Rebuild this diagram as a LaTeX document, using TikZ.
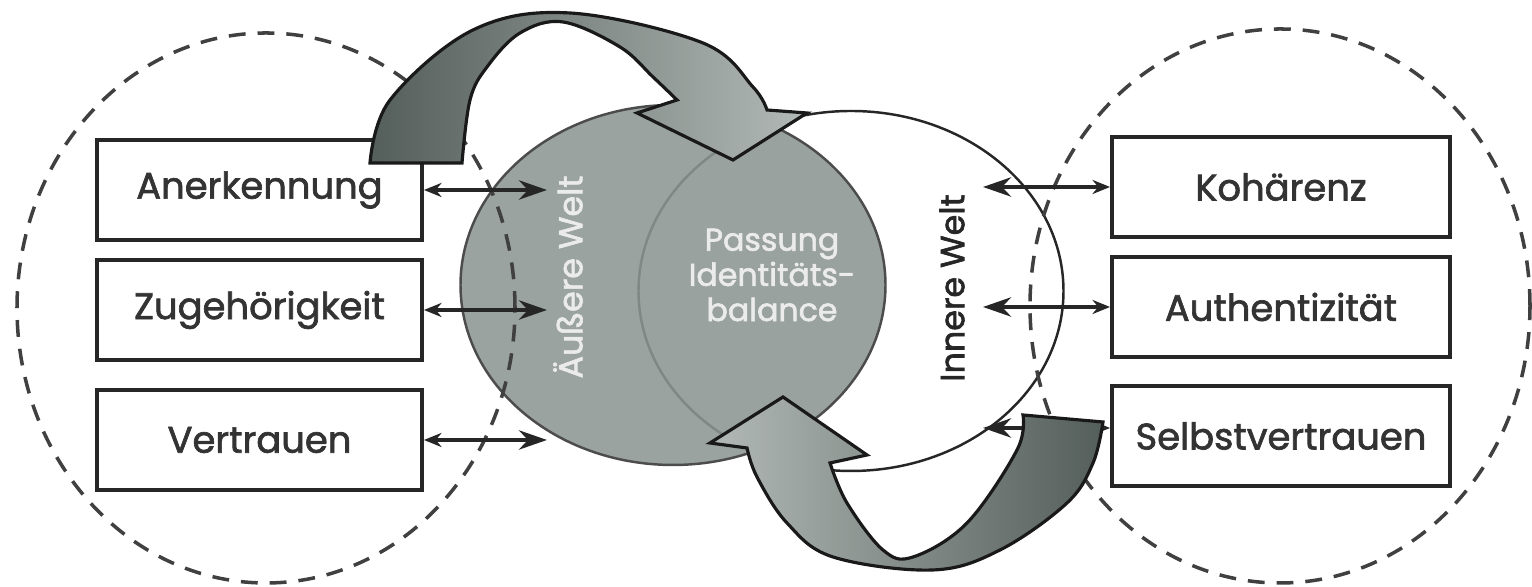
\documentclass[tikz,border=0pt]{standalone}
\usepackage{fontspec}
\setmainfont{Poppins}
\newfontfamily\heavyfont{Poppins}[FakeBold=1.8]
\usetikzlibrary{arrows.meta,positioning,shapes.geometric}
\definecolor{worldgray}{RGB}{140,150,146}
\definecolor{ribbondark}{RGB}{84,94,90}
\definecolor{ribbonlight}{RGB}{178,185,182}

\begin{document}
\begin{tikzpicture}[
    box/.style={draw=black!85, line width=1.1pt, fill=white, minimum height=1.0cm, font=\heavyfont\fontsize{10.5}{12}\selectfont, text=black!80},
    world/.style={ellipse, minimum width=4.25cm, minimum height=3.6cm, inner sep=0pt},
    ring/.style={ellipse, draw=black!75, line width=1pt, dash pattern=on 4.8pt off 3.4pt, inner sep=0pt},
    wlabel/.style={rotate=90, font=\heavyfont\fontsize{9.5}{11}\selectfont},
    link/.style={{Stealth[length=5pt,width=4pt]}-{Stealth[length=8pt,width=5.5pt]}, line width=1.1pt, black!85},
    ribbon/.style={draw=black!90, line width=0.9pt}
  ]
  \useasboundingbox (0,0) rectangle (15.32,5.87);

  % the two worlds
  \node[world, draw=black!85, line width=0.7pt, fill=white] (innen) at (8.51,2.96) {};
  \node[world, draw=black!70, line width=0.7pt, fill=worldgray, fill opacity=0.88] (aussen) at (6.73,3.02) {};

  % dashed groups
  \node[ring, minimum width=4.98cm, minimum height=5.50cm] (ringL) at (2.66,2.79) {};
  \node[ring, minimum width=5.00cm, minimum height=5.54cm] (ringR) at (12.80,2.81) {};

  \node[wlabel, text=white!92!black] (aussenTxt) at (5.68,3.10) {Äußere Welt};
  \node[wlabel, text=black!85] (innenTxt) at (9.52,2.99) {Innere Welt};
  \node[align=center, text=white!92!black, font=\heavyfont\fontsize{9}{10}\selectfont] (passung) at (7.72,3.12) {Passung\\Identitäts-\\balance};

  % needs
  \node[box, minimum width=3.25cm] (aner) at (2.595,3.97) {Anerkennung};
  \node[box, minimum width=3.25cm] (zuge) at (2.595,2.77) {Zugehörigkeit};
  \node[box, minimum width=3.25cm] (vert) at (2.595,1.47) {Vertrauen};
  \node[box, minimum width=3.38cm] (koh) at (12.81,4.00) {Kohärenz};
  \node[box, minimum width=3.38cm] (auth) at (12.81,2.80) {Authentizität};
  \node[box, minimum width=3.38cm] (selbst) at (12.81,1.51) {Selbstvertrauen};

  \coordinate (endL) at (5.47,0);
  \coordinate (endR) at (9.83,0);
  \draw[link] (aner.east) -- (aner.east -| endL);
  \draw[link] (zuge.east) -- (zuge.east -| endL);
  \draw[link] (vert.east) -- (vert.east -| endL);
  \draw[link] (koh.west) -- (koh.west -| endR);
  \draw[link] (auth.west) -- (auth.west -| endR);
  \draw[link] ([yshift=0.08cm]selbst.west) -- ([yshift=0.08cm]selbst.west -| endR);

  % curved ribbons
  \shade[ribbon, left color=ribbondark, right color=ribbonlight]
    plot[smooth, tension=0.6] coordinates {(3.70,4.24) (3.90,4.87) (4.73,5.57) (5.70,5.74) (7.03,5.44) (7.53,5.00) (7.67,4.77)}
    -- (8.07,4.74) -- (7.33,4.27) -- (6.37,4.74) -- (6.77,4.87)
    -- plot[smooth, tension=0.6] coordinates {(6.77,4.87) (6.53,5.10) (6.20,5.40) (5.63,5.65) (5.20,5.54) (4.87,5.20) (4.70,4.87) (4.62,4.24)}
    -- cycle;
  \shade[ribbon, left color=ribbonlight, right color=ribbondark]
    (10.23,1.72) -- (11.03,1.65)
    -- plot[smooth, tension=0.6] coordinates {(11.03,1.65) (10.93,1.24) (10.67,0.84) (10.00,0.37) (9.33,0.17) (8.33,0.30) (7.87,0.64) (7.57,1.10) (7.47,1.39)}
    -- (7.10,1.44) -- (7.83,1.90) -- (8.67,1.32) -- (8.30,1.24)
    -- plot[smooth, tension=0.6] coordinates {(8.30,1.24) (8.47,0.84) (8.83,0.37) (9.13,0.30) (9.67,0.64) (10.17,1.37) (10.23,1.72)}
    -- cycle;
\end{tikzpicture}
\end{document}
